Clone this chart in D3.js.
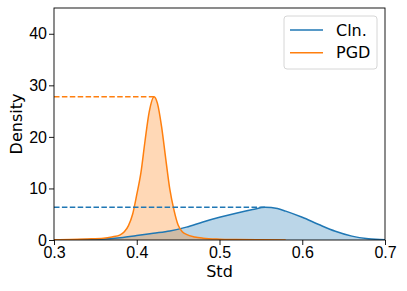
<!DOCTYPE html>
<html>
<head>
<meta charset="utf-8">
<script src="https://cdn.jsdelivr.net/npm/d3@7"></script>
<style>
  html, body { margin: 0; padding: 0; background: #fff; }
  svg { display: block; font-family: "DejaVu Sans", sans-serif; }
  .axis text { font-size: 16px; fill: #000; }
  .axis path, .axis line { stroke: #000; stroke-width: 0.9; }
</style>
</head>
<body>
<div id="chart"></div>
<script>
// Kernel density estimates
const clnStd = [0.30, 0.32, 0.34, 0.36, 0.38, 0.40, 0.42, 0.44, 0.46, 0.48, 0.50, 0.52, 0.54, 0.555, 0.57, 0.58, 0.60, 0.62, 0.64, 0.66, 0.68, 0.70];
const clnDensity = [0.02, 0.05, 0.1, 0.2, 0.45, 0.85, 1.3, 1.75, 2.5, 3.5, 4.4, 5.2, 5.9, 6.35, 6.1, 5.6, 4.4, 3.0, 1.7, 0.75, 0.25, 0.05];

const pgdStd = [0.30, 0.32, 0.34, 0.36, 0.37, 0.38, 0.385, 0.39, 0.395, 0.40, 0.405, 0.41, 0.415, 0.421, 0.425, 0.43, 0.435, 0.44, 0.445, 0.45, 0.455, 0.46, 0.47, 0.48, 0.50, 0.52, 0.55, 0.58];
const pgdDensity = [0.05, 0.1, 0.2, 0.35, 0.6, 1.0, 1.6, 2.8, 5.0, 8.8, 13, 19.2, 24.8, 27.8, 26.5, 22, 15.8, 9.8, 5.8, 2.9, 1.6, 1.1, 0.6, 0.35, 0.15, 0.08, 0.03, 0.0];

const seriesNames = ["Cln.", "PGD"];
const colors = ["#1f77b4", "#ff7f0e"];
const xTicks = [0.3, 0.4, 0.5, 0.6, 0.7];
const yTicks = [0, 10, 20, 30, 40];

const width = 407, height = 291;
const margin = {top: 8, right: 22, bottom: 51, left: 54};
const w = width - margin.left - margin.right;
const h = height - margin.top - margin.bottom;

const svg = d3.select("#chart").append("svg")
  .attr("width", width)
  .attr("height", height);

const g = svg.append("g")
  .attr("transform", `translate(${margin.left},${margin.top})`);

//
// Scales
//
const x = d3.scaleLinear().domain([0.3, 0.7]).range([0, w]);
const y = d3.scaleLinear().domain([0, 45]).range([h, 0]);

const series = [
  {name: seriesNames[0], color: colors[0], pts: clnStd.map((s, i) => [s, clnDensity[i]])},
  {name: seriesNames[1], color: colors[1], pts: pgdStd.map((s, i) => [s, pgdDensity[i]])}
];

const area = d3.area()
  .x(d => x(d[0]))
  .y0(y(0))
  .y1(d => y(d[1]))
  .curve(d3.curveMonotoneX);
const line = d3.line()
  .x(d => x(d[0]))
  .y(d => y(d[1]))
  .curve(d3.curveMonotoneX);

svg.append("clipPath").attr("id", "plot-clip")
  .append("rect").attr("width", w).attr("height", h);

const plot = g.append("g").attr("clip-path", "url(#plot-clip)");

series.forEach(s => {
  plot.append("path")
    .attr("d", area(s.pts))
    .attr("fill", s.color)
    .attr("fill-opacity", 0.3);
});
series.forEach(s => {
  plot.append("path")
    .attr("d", line(s.pts))
    .attr("fill", "none")
    .attr("stroke", s.color)
    .attr("stroke-width", 1.5);
});

// dashed peak markers
series.forEach(s => {
  const peak = s.pts.reduce((a, b) => b[1] > a[1] ? b : a);
  plot.append("line")
    .attr("x1", x(0.3)).attr("x2", x(peak[0]))
    .attr("y1", y(peak[1])).attr("y2", y(peak[1]))
    .attr("stroke", s.color)
    .attr("stroke-width", 1.5)
    .attr("stroke-dasharray", "5.5,2.4");
});

//
// Axes
//
g.append("g")
  .attr("class", "axis")
  .attr("transform", `translate(0,${h})`)
  .call(d3.axisBottom(x).tickValues(xTicks).tickFormat(d3.format(".1f")).tickSize(5).tickPadding(2));
g.append("g")
  .attr("class", "axis")
  .call(d3.axisLeft(y).tickValues(yTicks).tickSize(5).tickPadding(2));

g.selectAll(".axis .domain").remove();
g.append("rect")
  .attr("width", w).attr("height", h)
  .attr("fill", "none")
  .attr("stroke", "#000")
  .attr("stroke-width", 0.9);

svg.append("text")
  .attr("x", margin.left + w / 2)
  .attr("y", 277)
  .attr("text-anchor", "middle")
  .style("font-size", "16px")
  .text("Std");
svg.append("text")
  .attr("transform", `translate(22,${margin.top + h / 2}) rotate(-90)`)
  .attr("text-anchor", "middle")
  .style("font-size", "16px")
  .text("Density");

//
// Legend
//
const legend = svg.append("g").attr("transform", "translate(284,16)");
legend.append("rect")
  .attr("width", 93).attr("height", 53)
  .attr("rx", 3)
  .attr("fill", "#fff")
  .attr("fill-opacity", 0.8)
  .attr("stroke", "#d6d6d6");
series.forEach((s, i) => {
  const yy = 14 + i * 22.7;
  legend.append("line")
    .attr("x1", 6).attr("x2", 39)
    .attr("y1", yy).attr("y2", yy)
    .attr("stroke", s.color).attr("stroke-width", 1.5);
  legend.append("text")
    .attr("x", 52).attr("y", yy + 5.7)
    .style("font-size", "16px")
    .text(s.name);
});
</script>
</body>
</html>
